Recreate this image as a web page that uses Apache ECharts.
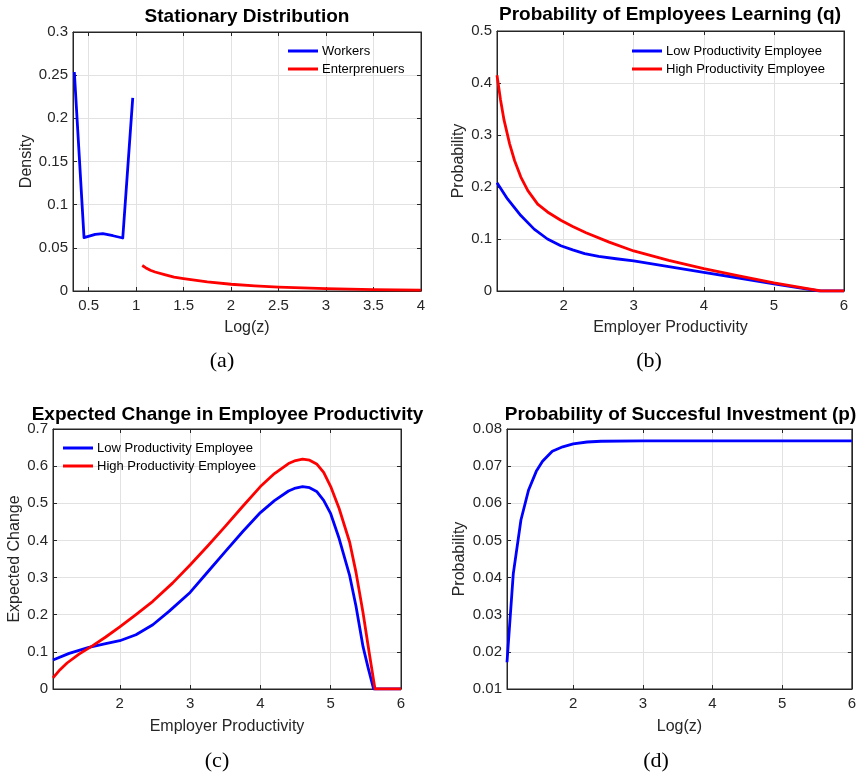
<!DOCTYPE html>
<html>
<head>
<meta charset="utf-8">
<script src="https://cdn.jsdelivr.net/npm/echarts@6/dist/echarts.min.js"></script>
<style>
  html, body { margin: 0; padding: 0; background: #fff; }
  #chart { width: 859px; height: 773px; }
</style>
</head>
<body>
<div id="chart"></div>
<script>
// (a) stationary distribution
const workersX = [0.35, 0.452, 0.57, 0.65, 0.757, 0.86, 0.965];
const workersY = [0.2537, 0.0618, 0.0656, 0.0664, 0.064, 0.0614, 0.2236];
const entrepX = [1.065, 1.1, 1.15, 1.2, 1.3, 1.4, 1.5, 1.75, 2, 2.25, 2.5, 2.75, 3, 3.25, 3.5, 3.75, 4];
const entrepY = [0.0295, 0.027, 0.024, 0.022, 0.019, 0.016, 0.0143, 0.0105, 0.0078, 0.006, 0.0046, 0.0036, 0.0028, 0.0022, 0.0017, 0.0013, 0.001];

// (b) probability of employees learning (q)
const learnLowX = [1.05, 1.2, 1.39, 1.58, 1.77, 1.96, 2.13, 2.3, 2.5, 2.75, 3, 3.5, 4, 4.5, 5, 5.5, 5.65, 6];
const learnLowY = [0.208, 0.177, 0.145, 0.119, 0.1, 0.087, 0.079, 0.072, 0.0665, 0.062, 0.058, 0.047, 0.036, 0.025, 0.0135, 0.003, 0, 0];
const learnHighX = [1.05, 1.1, 1.15, 1.23, 1.3, 1.39, 1.49, 1.63, 1.77, 1.96, 2.13, 2.32, 2.65, 3, 3.5, 4, 4.5, 5, 5.5, 5.67, 6];
const learnHighY = [0.415, 0.368, 0.329, 0.283, 0.251, 0.219, 0.193, 0.167, 0.152, 0.136, 0.124, 0.112, 0.094, 0.077, 0.059, 0.043, 0.029, 0.0155, 0.004, 0, 0];

// (c) expected change in employee productivity
const changeLowX = [1.05, 1.28, 1.56, 1.8, 2, 2.23, 2.47, 2.7, 3, 3.25, 3.5, 3.75, 4, 4.2, 4.4, 4.5, 4.6, 4.7, 4.8, 4.9, 5, 5.12, 5.27, 5.36, 5.46, 5.53, 5.61, 6];
const changeLowY = [0.078, 0.096, 0.112, 0.122, 0.13, 0.146, 0.173, 0.209, 0.26, 0.315, 0.37, 0.424, 0.475, 0.507, 0.533, 0.541, 0.545, 0.542, 0.532, 0.508, 0.472, 0.405, 0.305, 0.223, 0.114, 0.059, 0, 0];
const changeHighX = [1.05, 1.15, 1.25, 1.42, 1.61, 1.8, 2, 2.23, 2.47, 2.75, 3, 3.25, 3.5, 3.75, 4, 4.2, 4.4, 4.5, 4.6, 4.7, 4.8, 4.9, 5, 5.12, 5.27, 5.36, 5.46, 5.55, 5.63, 6];
const changeHighY = [0.03, 0.052, 0.07, 0.094, 0.116, 0.14, 0.167, 0.2, 0.236, 0.285, 0.334, 0.385, 0.438, 0.492, 0.545, 0.58, 0.607, 0.615, 0.619, 0.616, 0.606, 0.583, 0.545, 0.486, 0.395, 0.314, 0.205, 0.095, 0, 0];

// (d) probability of successful investment (p)
const investX = [1.05, 1.14, 1.25, 1.36, 1.47, 1.56, 1.7, 1.85, 2, 2.2, 2.4, 3, 4, 5, 6];
const investY = [0.0172, 0.041, 0.0555, 0.0636, 0.0686, 0.0713, 0.074, 0.0752, 0.076, 0.0765, 0.0767, 0.0768, 0.0768, 0.0768, 0.0768];

// tick labels
const ticksXA = [0.5, 1, 1.5, 2, 2.5, 3, 3.5, 4];
const ticksYA = [0, 0.05, 0.1, 0.15, 0.2, 0.25, 0.3];
const ticksXProd = [2, 3, 4, 5, 6];
const ticksYB = [0, 0.1, 0.2, 0.3, 0.4, 0.5];
const ticksYC = [0, 0.1, 0.2, 0.3, 0.4, 0.5, 0.6, 0.7];
const ticksYD = [0.01, 0.02, 0.03, 0.04, 0.05, 0.06, 0.07, 0.08];

const SANS = "'Liberation Sans', Arial, sans-serif";
const SERIF = "'Liberation Serif', 'DejaVu Serif', serif";
const AXIS = '#262626';
const GRIDLINE = '#e2e2e2';
const BLUE = '#0000ff';
const RED = '#ff0000';

const pairs = (xs, ys) => xs.map((x, i) => [x, ys[i]]);

const panels = [
  { grid: { left: 73, top: 32, width: 348, height: 259 },
    x: [0.336, 4, ticksXA], y: [0, 0.3, ticksYA],
    xName: 'Log(z)', xGap: 29, yName: 'Density', yGap: 38 },
  { grid: { left: 497, top: 31, width: 347, height: 260 },
    x: [1.05, 6, ticksXProd], y: [0, 0.5, ticksYB],
    xName: 'Employer Productivity', xGap: 29, yName: 'Probability', yGap: 30 },
  { grid: { left: 53, top: 429, width: 348, height: 260 },
    x: [1.05, 6, ticksXProd], y: [0, 0.7, ticksYC],
    xName: 'Employer Productivity', xGap: 30, yName: 'Expected Change', yGap: 30 },
  { grid: { left: 507, top: 429, width: 347, height: 260 },
    x: [1.05, 6, ticksXProd], y: [0.01, 0.08, ticksYD],
    xName: 'Log(z)', xGap: 30, yName: 'Probability', yGap: 39 },
];

const xAxis = [];
const yAxis = [];
panels.forEach((p, gi) => {
  const [xmin, xmax, xt] = p.x;
  const [ymin, ymax, yt] = p.y;
  const line = { show: true, onZero: false, lineStyle: { color: AXIS, width: 1 } };
  const label = { fontSize: 15, color: AXIS, fontFamily: SANS };
  const name = { fontSize: 16, color: AXIS, fontFamily: SANS };
  xAxis.push({
    type: 'value', gridIndex: gi, min: xmin, max: xmax, position: 'bottom',
    name: p.xName, nameLocation: 'middle', nameGap: p.xGap, nameTextStyle: name,
    axisLine: line,
    axisTick: { show: true, inside: true, length: 4, customValues: xt, lineStyle: { color: AXIS } },
    axisLabel: { ...label, margin: 7, customValues: xt },
    splitLine: { show: true, lineStyle: { color: GRIDLINE, width: 1 } },
  });
  xAxis.push({
    type: 'value', gridIndex: gi, min: xmin, max: xmax, position: 'top',
    axisLine: line,
    axisTick: { show: true, inside: true, length: 4, customValues: xt, lineStyle: { color: AXIS } },
    axisLabel: { show: false },
    splitLine: { show: false },
  });
  yAxis.push({
    type: 'value', gridIndex: gi, min: ymin, max: ymax, position: 'left',
    name: p.yName, nameLocation: 'middle', nameGap: p.yGap, nameTextStyle: name,
    axisLine: line,
    axisTick: { show: true, inside: true, length: 4, customValues: yt, lineStyle: { color: AXIS } },
    axisLabel: { ...label, margin: 5, customValues: yt },
    splitLine: { show: true, lineStyle: { color: GRIDLINE, width: 1 } },
  });
  yAxis.push({
    type: 'value', gridIndex: gi, min: ymin, max: ymax, position: 'right',
    axisLine: line,
    axisTick: { show: true, inside: true, length: 4, customValues: yt, lineStyle: { color: AXIS } },
    axisLabel: { show: false },
    splitLine: { show: false },
  });
});

function lineSeries(name, panel, data, color) {
  return {
    name, type: 'line', xAxisIndex: panel * 2, yAxisIndex: panel * 2,
    data, symbol: 'none', smooth: false, animation: false,
    lineStyle: { color, width: 2.8, join: 'round', cap: 'butt' }, itemStyle: { color },
  };
}

const legendBase = {
  orient: 'vertical', icon: 'rect', itemWidth: 30, itemHeight: 3, itemGap: 4, padding: 0,
  selectedMode: false,
  textStyle: { fontSize: 13, lineHeight: 14, color: '#000', fontFamily: SANS, padding: [0, 0, 0, -1] },
};

const titles = [
  ['Stationary Distribution', 247, 16.5],
  ['Probability of Employees Learning (q)', 670, 15],
  ['Expected Change in Employee Productivity', 227.5, 415],
  ['Probability of Succesful Investment (p)', 680.5, 415],
];
const captions = [['(a)', 222, 361], ['(b)', 649, 361], ['(c)', 217, 761], ['(d)', 656, 761]];

const chart = echarts.init(document.getElementById('chart'));
chart.setOption({
  backgroundColor: '#fff',
  animation: false,
  grid: panels.map((p) => ({
    ...p.grid, show: true, borderColor: AXIS, borderWidth: 1, backgroundColor: 'transparent',
  })),
  xAxis,
  yAxis,
  legend: [
    { ...legendBase, data: ['Workers', 'Enterprenuers'], left: 288, top: 44 },
    { ...legendBase, data: ['Low Productivity Employee', 'High Productivity Employee'], left: 632, top: 44 },
    { ...legendBase, data: ['Low Productivity Employee', 'High Productivity Employee'], left: 63, top: 441 },
  ],
  graphic: [
    ...titles.map(([text, x, y]) => ({
      type: 'text', x, y,
      style: { text, font: `bold 19px ${SANS}`, fill: '#000', align: 'center', verticalAlign: 'middle', textAlign: 'center', textVerticalAlign: 'middle' },
    })),
    ...captions.map(([text, x, y]) => ({
      type: 'text', x, y,
      style: { text, font: `22px ${SERIF}`, fill: '#000', align: 'center', verticalAlign: 'middle', textAlign: 'center', textVerticalAlign: 'middle' },
    })),
  ],
  series: [
    lineSeries('Workers', 0, pairs(workersX, workersY), BLUE),
    lineSeries('Enterprenuers', 0, pairs(entrepX, entrepY), RED),
    lineSeries('Low Productivity Employee', 1, pairs(learnLowX, learnLowY), BLUE),
    lineSeries('High Productivity Employee', 1, pairs(learnHighX, learnHighY), RED),
    lineSeries('Low Productivity Employee', 2, pairs(changeLowX, changeLowY), BLUE),
    lineSeries('High Productivity Employee', 2, pairs(changeHighX, changeHighY), RED),
    lineSeries('p', 3, pairs(investX, investY), BLUE),
  ],
});
</script>
</body>
</html>
